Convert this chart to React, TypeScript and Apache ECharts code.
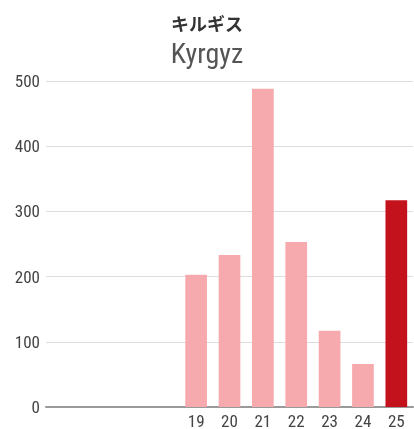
import React, { useEffect, useRef } from "react";
import * as echarts from "echarts";

const categories = ["15", "16", "17", "18", "19", "20", "21", "22", "23", "24", "25"];
const tickLabels = ["", "", "", "", "19", "20", "21", "22", "23", "24", "25"];
const values: (number | null)[] = [null, null, null, null, 203, 233, 488, 253, 117, 66, 317];
const titleJa = "キルギス";
const titleEn = "Kyrgyz";

const FONT = "'Roboto Condensed', 'Liberation Sans Narrow', 'DejaVu Sans Condensed', Roboto, sans-serif";

export default function App() {
  const ref = useRef<HTMLDivElement>(null);
  useEffect(() => {
    if (!ref.current) return;
    const chart = echarts.init(ref.current, undefined, { renderer: "svg" });
    const last = values.length - 1;
    chart.setOption({
      animation: false,
      title: [
        {
          text: titleJa,
          left: "center",
          top: 9,
          textStyle: { fontFamily: "'Noto Sans CJK JP', sans-serif", fontSize: 18, fontWeight: "bold", color: "#333" },
        },
        {
          text: titleEn,
          left: "center",
          top: 34,
          textStyle: { fontFamily: FONT, fontSize: 28, fontWeight: "normal", color: "#555" },
        },
      ],
      grid: { left: 46, right: 1, top: 81, bottom: 20 },
      xAxis: {
        type: "category",
        data: categories,
        axisLine: { show: true, lineStyle: { color: "#999", width: 2 } },
        axisTick: { show: false },
        axisLabel: {
          interval: 0,
          fontFamily: FONT,
          fontSize: 17,
          color: "#444",
          margin: 5,
          formatter: (_v: string, i: number) => tickLabels[i],
        },
      },
      yAxis: {
        type: "value",
        min: 0,
        max: 500,
        interval: 100,
        axisLine: { show: false },
        axisTick: { show: false },
        splitLine: { lineStyle: { color: "#ddd", width: 1 } },
        axisLabel: { fontFamily: FONT, fontSize: 17, color: "#444", margin: 6 },
      },
      series: [
        {
          type: "bar",
          barWidth: "65%",
          data: values.map((v, i) => ({
            value: v,
            itemStyle: { color: i === last ? "#c4121c" : "#f7aaae" },
          })),
        },
      ],
    });
    return () => chart.dispose();
  }, []);
  return <div ref={ref} style={{ position: "fixed", left: 0, top: 0, width: 414, height: 429 }} />;
}
